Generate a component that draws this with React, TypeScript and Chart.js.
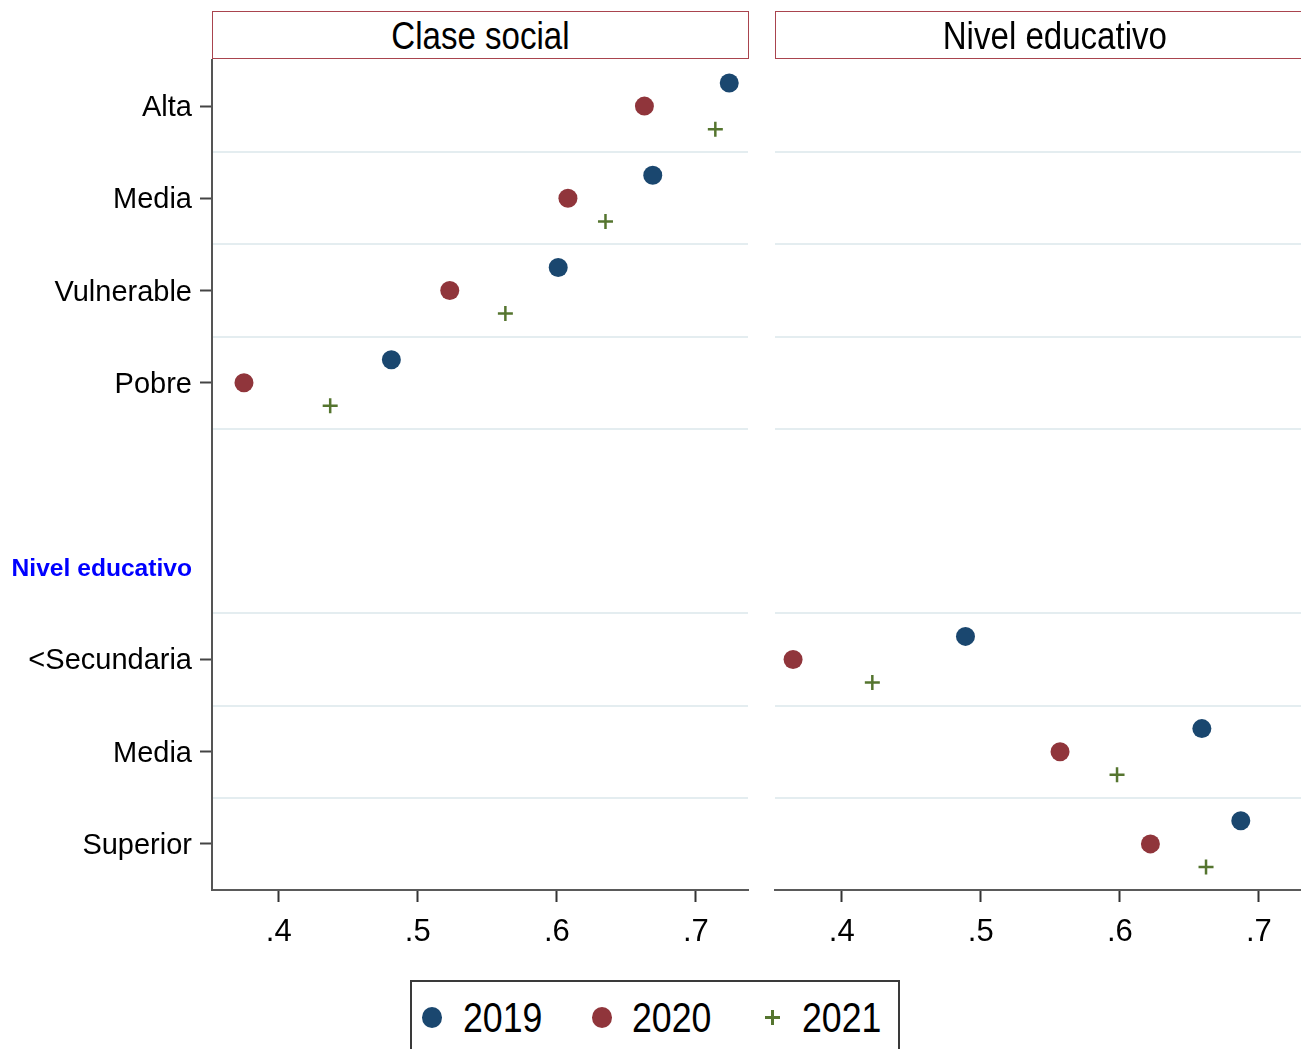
import React, { useEffect, useRef } from "react";
import { Chart, registerables } from "chart.js";

Chart.register(...registerables);

const FONT = "'Liberation Sans', Arial, Helvetica, sans-serif";
Chart.defaults.font.family = FONT;

// ---- data ----
const years = ["2019", "2020", "2021"];
const yearColors = ["#1a476f", "#90353b", "#55752f"];
const yearOffsets = [-0.25, 0, 0.25];

const rowLabels = ["Alta", "Media", "Vulnerable", "Pobre", "", "Nivel educativo", "<Secundaria", "Media", "Superior"];
const labelTickRows = [0, 1, 2, 3, 5, 6, 7, 8];
const headerRow = 5;
const gridRows = [0.5, 1.5, 2.5, 3.5, 5.5, 6.5, 7.5];

const claseRows = [0, 1, 2, 3];
const clase2019 = [0.724, 0.669, 0.601, 0.481];
const clase2020 = [0.663, 0.608, 0.523, 0.375];
const clase2021 = [0.714, 0.635, 0.563, 0.437];

const nivelRows = [6, 7, 8];
const nivel2019 = [0.489, 0.659, 0.687];
const nivel2020 = [0.365, 0.557, 0.622];
const nivel2021 = [0.422, 0.598, 0.662];

const xTickValues = [0.4, 0.5, 0.6, 0.7];
const xTickLabels = [".4", ".5", ".6", ".7"];
const xMin = 0.352;
const xMax = 0.7375;
const yMin = -0.5;
const yMax = 8.5;

const panelTitles = ["Clase social", "Nivel educativo"];

type PanelProps = { rows: number[]; series: number[][]; showLabels: boolean; left: number };

function Panel({ rows, series, showLabels, left }: PanelProps) {
  const ref = useRef<HTMLCanvasElement>(null);
  useEffect(() => {
    if (!ref.current) return;
    const datasets = series.map((vals, k) => ({
      label: years[k],
      data: vals.map((v, i) => ({ x: v, y: rows[i] + yearOffsets[k] })),
      pointStyle: k === 2 ? "cross" : "circle",
      pointRadius: k === 2 ? 7.5 : 9.5,
      pointBackgroundColor: yearColors[k],
      pointBorderColor: yearColors[k],
      pointBorderWidth: k === 2 ? 2.5 : 0,
      showLine: false,
    }));
    const chart = new Chart(ref.current, {
      type: "scatter",
      data: { datasets } as any,
      options: {
        animation: false,
        responsive: false,
        maintainAspectRatio: false,
        events: [],
        layout: { padding: { top: 60, right: 12, left: 0, bottom: 0 } },
        plugins: { legend: { display: false }, tooltip: { enabled: false } },
        scales: {
          x: {
            type: "linear",
            min: xMin,
            max: xMax,
            afterBuildTicks: (s: any) => {
              s.ticks = xTickValues.map((v) => ({ value: v }));
            },
            afterFit: (s: any) => {
              s.height = 70;
            },
            ticks: {
              autoSkip: false,
              maxRotation: 0,
              padding: 12,
              color: "#000",
              font: { size: 31 },
              callback: (v: any) => {
                let best = 0;
                xTickValues.forEach((t, i) => {
                  if (Math.abs(t - v) < Math.abs(xTickValues[best] - v)) best = i;
                });
                return xTickLabels[best];
              },
            },
            grid: { drawOnChartArea: false, drawTicks: true, tickLength: 12, tickWidth: 2, tickColor: "#333" },
            border: { display: true, color: "#5a5a5a", width: 2 },
          },
          y: {
            type: "linear",
            min: yMin,
            max: yMax,
            reverse: true,
            position: "left",
            afterBuildTicks: (s: any) => {
              s.ticks = labelTickRows.map((v) => ({ value: v }));
            },
            afterFit: (s: any) => {
              s.width = 212;
            },
            ticks: {
              display: showLabels,
              autoSkip: false,
              padding: 8,
              labelOffset: 2,
              callback: (v: any) => rowLabels[Math.round(v)] ?? "",
              color: (ctx: any) => (ctx.tick && ctx.tick.value === headerRow ? "#0000ff" : "#000"),
              font: (ctx: any) =>
                ctx.tick && ctx.tick.value === headerRow
                  ? { family: FONT, size: 24.6, weight: "bold" }
                  : { family: FONT, size: 29 },
            },
            grid: {
              drawOnChartArea: false,
              drawTicks: showLabels,
              tickLength: 12,
              tickWidth: 2,
              tickColor: (ctx: any) =>
                ctx.tick && ctx.tick.value === headerRow ? "rgba(0,0,0,0)" : "#444",
            },
            border: { display: showLabels, color: "#555", width: 2 },
          },
          yg: {
            type: "linear",
            min: yMin,
            max: yMax,
            reverse: true,
            position: "left",
            afterBuildTicks: (s: any) => {
              s.ticks = gridRows.map((v) => ({ value: v }));
            },
            afterFit: (s: any) => {
              s.width = 0;
            },
            ticks: { display: false },
            grid: { drawOnChartArea: true, drawTicks: false, color: "#e4edf0", lineWidth: 2 },
            border: { display: false },
          },
        },
      } as any,
    });
    return () => chart.destroy();
  }, []);
  return (
    <canvas
      ref={ref}
      width={760}
      height={960}
      style={{ position: "absolute", left, top: 0, width: 760, height: 960 }}
    />
  );
}

function Strip({ left, width, text }: { left: number; width: number; text: string }) {
  return (
    <div
      style={{
        position: "absolute",
        left,
        top: 11,
        width,
        height: 48,
        border: "1.5px solid #a9444e",
        boxSizing: "border-box",
        background: "#fff",
        display: "flex",
        alignItems: "center",
        justifyContent: "center",
      }}
    >
      <span
        style={{
          fontFamily: FONT,
          fontSize: 38,
          lineHeight: "44px",
          color: "#000",
          transform: "scaleX(0.87) translateY(1px)",
          display: "inline-block",
          whiteSpace: "nowrap",
        }}
      >
        {text}
      </span>
    </div>
  );
}

function LegendText({ left, text }: { left: number; text: string }) {
  return (
    <span
      style={{
        position: "absolute",
        left,
        top: 994,
        fontFamily: FONT,
        fontSize: 42,
        lineHeight: "48px",
        color: "#000",
        transform: "scaleX(0.85)",
        transformOrigin: "left center",
        whiteSpace: "nowrap",
      }}
    >
      {text}
    </span>
  );
}

export default function App() {
  return (
    <div
      style={{
        position: "absolute",
        left: 0,
        top: 0,
        width: 1301,
        height: 1049,
        overflow: "hidden",
        background: "#fff",
      }}
    >
      <Panel rows={claseRows} series={[clase2019, clase2020, clase2021]} showLabels={true} left={0} />
      <Panel rows={nivelRows} series={[nivel2019, nivel2020, nivel2021]} showLabels={false} left={563} />
      <Strip left={212} width={537} text={panelTitles[0]} />
      <Strip left={775} width={560} text={panelTitles[1]} />
      <div
        style={{
          position: "absolute",
          left: 410,
          top: 980,
          width: 490,
          height: 100,
          border: "2px solid #3a3a3a",
          boxSizing: "border-box",
        }}
      />
      <div
        style={{
          position: "absolute",
          left: 422,
          top: 1007,
          width: 20,
          height: 21,
          borderRadius: "50%",
          background: yearColors[0],
        }}
      />
      <LegendText left={463} text={years[0]} />
      <div
        style={{
          position: "absolute",
          left: 592,
          top: 1007,
          width: 20,
          height: 21,
          borderRadius: "50%",
          background: yearColors[1],
        }}
      />
      <LegendText left={632} text={years[1]} />
      <div style={{ position: "absolute", left: 765, top: 1016, width: 15, height: 2.5, background: yearColors[2] }} />
      <div style={{ position: "absolute", left: 771, top: 1010, width: 2.5, height: 15, background: yearColors[2] }} />
      <LegendText left={802} text={years[2]} />
    </div>
  );
}
